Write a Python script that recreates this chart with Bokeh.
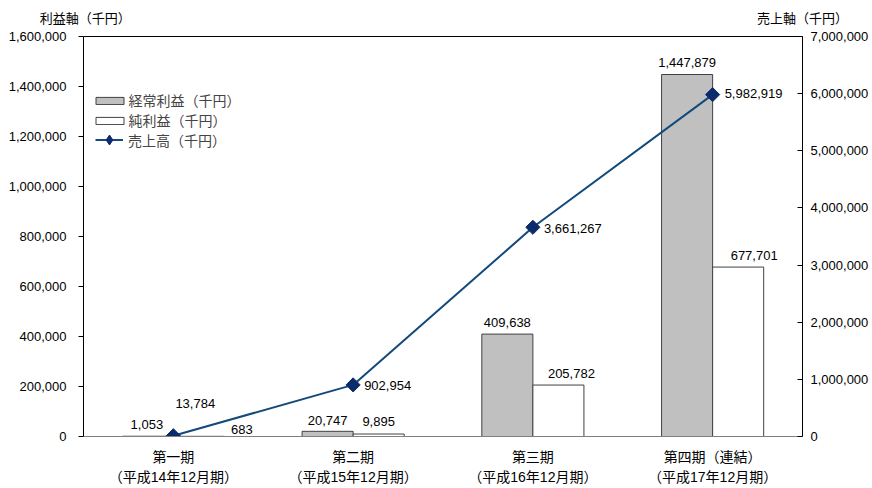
from bokeh.plotting import figure
from bokeh.models import (Range1d, LinearAxis, FixedTicker, NumeralTickFormatter,
                          Legend, LegendItem, ColumnDataSource)
from bokeh.embed import file_html
from bokeh.resources import INLINE
import math

# 決算期ごとの業績（千円）
periods = ["第一期", "第二期", "第三期", "第四期（連結）"]
fiscal_years = ["（平成14年12月期）", "（平成15年12月期）", "（平成16年12月期）", "（平成17年12月期）"]
ordinary_profit = [1053, 20747, 409638, 1447879]
net_profit = [683, 9895, 205782, 677701]
sales = [13784, 902954, 3661267, 5982919]

profit_ticks = [0, 200000, 400000, 600000, 800000, 1000000, 1200000, 1400000, 1600000]
sales_ticks = [0, 1000000, 2000000, 3000000, 4000000, 5000000, 6000000, 7000000]
axis_titles = ["利益軸（千円）", "売上軸（千円）"]

JP_FONT = "Noto Sans CJK JP"
CAT_FONT = "'Liberation Sans', 'Noto Sans CJK JP'"
NUM_FONT = "Liberation Sans"
FS = "13px"
FS_JP = "14px"

n = len(periods)
centers = [i + 0.5 for i in range(n)]
bar_w = 0.284

p = figure(width=872, height=488, x_range=Range1d(0, n), y_range=Range1d(0, profit_ticks[-1]),
           output_backend="svg", toolbar_location=None,
           x_axis_location=None, y_axis_location=None,
           min_border_left=83, min_border_right=70, min_border_top=36, min_border_bottom=52)
p.extra_y_ranges = {"sales": Range1d(0, sales_ticks[-1])}
p.grid.visible = False
p.outline_line_color = None
p.background_fill_color = "white"
p.border_fill_color = "white"


def no_ticks(ax):
    ax.major_tick_out = 0
    ax.major_tick_in = 0
    ax.minor_tick_out = 0
    ax.minor_tick_in = 0


# 左軸：利益
left = LinearAxis(ticker=FixedTicker(ticks=profit_ticks),
                  formatter=NumeralTickFormatter(format="0,0"))
no_ticks(left)
left.major_tick_out = 5
left.axis_line_color = "black"
left.major_tick_line_color = "black"
left.major_label_text_font = NUM_FONT
left.major_label_text_font_size = FS
left.major_label_text_color = "black"
left.major_label_standoff = 12
p.add_layout(left, "left")

# 右軸：売上
right = LinearAxis(y_range_name="sales", ticker=FixedTicker(ticks=sales_ticks),
                   formatter=NumeralTickFormatter(format="0,0"))
no_ticks(right)
right.major_tick_in = 5
right.axis_line_color = "black"
right.major_tick_line_color = "black"
right.major_label_text_font = NUM_FONT
right.major_label_text_font_size = FS
right.major_label_text_color = "black"
right.major_label_standoff = 8
p.add_layout(right, "right")

# 上枠線と軸タイトル
title_pos = [0.01, n]
top = LinearAxis(ticker=FixedTicker(ticks=title_pos),
                 major_label_overrides={t: s for t, s in zip(title_pos, axis_titles)})
no_ticks(top)
top.axis_line_color = "black"
top.major_label_text_font = JP_FONT
top.major_label_text_font_size = FS
top.major_label_text_color = "black"
top.major_label_standoff = 10
p.add_layout(top, "above")


# 下軸：期の名称と決算期
def category_axis(labels, line_color, standoff):
    ax = LinearAxis(ticker=FixedTicker(ticks=centers),
                    major_label_overrides={c: t for c, t in zip(centers, labels)})
    no_ticks(ax)
    ax.axis_line_color = line_color
    ax.major_label_text_font = CAT_FONT
    ax.major_label_text_font_size = FS_JP
    ax.major_label_text_color = "black"
    ax.major_label_standoff = standoff
    return ax


p.add_layout(category_axis(periods, "#808080", 12), "below")
p.add_layout(category_axis(fiscal_years, None, 1), "below")

# 棒グラフ
ord_x = [c - bar_w / 2 for c in centers]
net_x = [c + bar_w / 2 for c in centers]
r_ord = p.vbar(x=ord_x, top=ordinary_profit, width=bar_w,
               fill_color="#C0C0C0", line_color="#404040", line_width=1)
r_net = p.vbar(x=net_x, top=net_profit, width=bar_w,
               fill_color="white", line_color="#404040", line_width=1)

# 売上高の折れ線
LINE_C = "#124A7C"
MARK_C = "#0C2B6B"
r_line = p.line(x=centers, y=sales, y_range_name="sales", line_color=LINE_C, line_width=2)
r_pts = p.scatter(x=centers, y=sales, y_range_name="sales", marker="square", angle=math.pi / 4,
                  size=10, fill_color=MARK_C, line_color=MARK_C)
# 凡例用のひし形
r_key = p.scatter(x=centers, y=sales, y_range_name="sales", marker="diamond",
                  size=10, fill_color=MARK_C, line_color=MARK_C, visible=False)

# データラベル
ord_src = ColumnDataSource(dict(
    x=ord_x, y=ordinary_profit, text=[f"{v:,}" for v in ordinary_profit],
    dx=[-1, 0, 0, 0], dy=[-12, -11, -12, -12]))
p.text(x="x", y="y", text="text", x_offset="dx", y_offset="dy", source=ord_src,
       text_align="center", text_baseline="middle", text_font_size=FS,
       text_font={"value": NUM_FONT}, text_color="black")

net_src = ColumnDataSource(dict(
    x=net_x, y=net_profit, text=[f"{v:,}" for v in net_profit],
    dx=[43, 0, 13, 16], dy=[-7, -13, -12, -12]))
p.text(x="x", y="y", text="text", x_offset="dx", y_offset="dy", source=net_src,
       text_align="center", text_baseline="middle", text_font_size=FS,
       text_font={"value": NUM_FONT}, text_color="black")

sales_src = ColumnDataSource(dict(
    x=centers, y=sales, text=[f"{v:,}" for v in sales],
    dx=[2, 11, 11, 12], dy=[-32, 1, 1, -1]))
p.text(x="x", y="y", text="text", x_offset="dx", y_offset="dy", source=sales_src,
       y_range_name="sales", text_align="left", text_baseline="middle", text_font_size=FS,
       text_font={"value": NUM_FONT}, text_color="black")

# 凡例
bar_legend = Legend(items=[LegendItem(label="経常利益（千円）", renderers=[r_ord]),
                           LegendItem(label="純利益（千円）", renderers=[r_net])],
                    location=(8.5, 306), orientation="vertical",
                    glyph_width=35, glyph_height=9, label_height=9, spacing=-1,
                    padding=0, margin=0, label_standoff=2,
                    label_text_font=JP_FONT, label_text_font_size=FS_JP,
                    border_line_color=None, background_fill_alpha=0)
line_legend = Legend(items=[LegendItem(label="売上高（千円）", renderers=[r_line, r_key])],
                     location=(12, 284), orientation="vertical",
                     glyph_width=28, glyph_height=25, label_height=18, spacing=0,
                     padding=0, margin=0, label_standoff=5,
                     label_text_font=JP_FONT, label_text_font_size=FS_JP,
                     border_line_color=None, background_fill_alpha=0)
p.add_layout(bar_legend, "center")
p.add_layout(line_legend, "center")

open("out.html", "w").write(file_html(p, INLINE))
